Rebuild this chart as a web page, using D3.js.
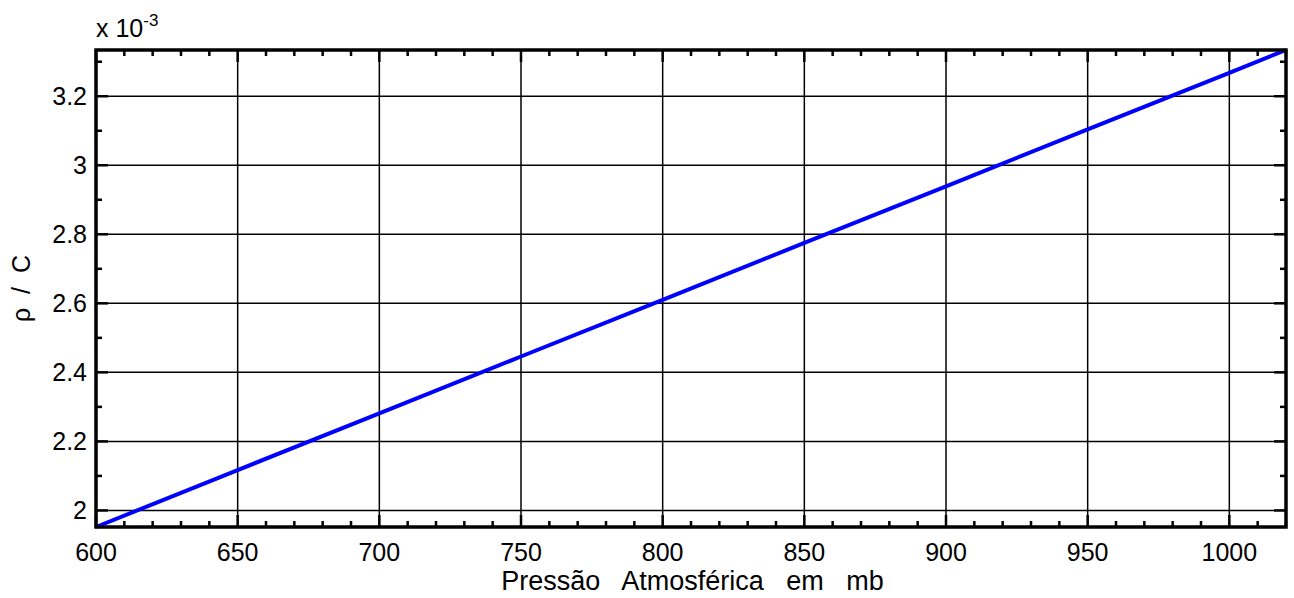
<!DOCTYPE html>
<html>
<head>
<meta charset="utf-8">
<script src="https://cdn.jsdelivr.net/npm/d3@7"></script>
<style>
  body { margin: 0; background: #fff; }
  text { font-family: "Liberation Sans", Arial, sans-serif; fill: #000; }
</style>
</head>
<body>
<script>
// data (rho / C in units of 1e-3)
var pressure = [600, 650, 700, 750, 800, 850, 900, 950, 1000, 1020];
var rhoC = [1.952, 2.117, 2.281, 2.446, 2.610, 2.775, 2.939, 3.104, 3.268, 3.334];
var xTicks = [600, 650, 700, 750, 800, 850, 900, 950, 1000];
var yTicks = [2, 2.2, 2.4, 2.6, 2.8, 3, 3.2];
var xTitle = "Pressão   Atmosférica   em   mb";
var yTitle = "ρ  /  C";

// set the dimensions and margins of the graph
var margin = { top: 50, right: 8, bottom: 71, left: 96 },
    width = 1294 - margin.left - margin.right,
    height = 598 - margin.top - margin.bottom;

var x = d3.scaleLinear().domain([600, 1020]).range([0, width]);
var y = d3.scaleLinear().domain([1.952, 3.334]).range([height, 0]);

var svg = d3.select("body").append("svg")
    .attr("width", 1294)
    .attr("height", 598)
    .append("g")
    .attr("transform", "translate(" + margin.left + "," + margin.top + ")");

// grid lines
svg.selectAll(".vgrid").data(xTicks).enter().append("line")
    .attr("x1", function(d) { return x(d); })
    .attr("x2", function(d) { return x(d); })
    .attr("y1", 0).attr("y2", height)
    .attr("stroke", "#000").attr("stroke-width", 1.5);

svg.selectAll(".hgrid").data(yTicks).enter().append("line")
    .attr("y1", function(d) { return y(d); })
    .attr("y2", function(d) { return y(d); })
    .attr("x1", 0).attr("x2", width)
    .attr("stroke", "#000").attr("stroke-width", 1.5);

// minor ticks
var xMinor = d3.range(600, 1021, 10).filter(function(d) { return d % 50 !== 0; });
var yMinor = d3.range(1.9, 3.35, 0.1).filter(function(d) {
    return d >= y.domain()[0] && d <= y.domain()[1] && Math.round(d * 10) % 2 === 1;
});

[[height, -1], [0, 1]].forEach(function(s) {
    svg.append("g").selectAll("line").data(xMinor).enter().append("line")
        .attr("x1", function(d) { return x(d); })
        .attr("x2", function(d) { return x(d); })
        .attr("y1", s[0]).attr("y2", s[0] + s[1] * 6)
        .attr("stroke", "#000").attr("stroke-width", 2.5);
    svg.append("g").selectAll("line").data(xTicks).enter().append("line")
        .attr("x1", function(d) { return x(d); })
        .attr("x2", function(d) { return x(d); })
        .attr("y1", s[0]).attr("y2", s[0] + s[1] * 12)
        .attr("stroke", "#000").attr("stroke-width", 2.5);
});

[[0, 1], [width, -1]].forEach(function(s) {
    svg.append("g").selectAll("line").data(yMinor).enter().append("line")
        .attr("y1", function(d) { return y(d); })
        .attr("y2", function(d) { return y(d); })
        .attr("x1", s[0]).attr("x2", s[0] + s[1] * 6)
        .attr("stroke", "#000").attr("stroke-width", 2.5);
    svg.append("g").selectAll("line").data(yTicks).enter().append("line")
        .attr("y1", function(d) { return y(d); })
        .attr("y2", function(d) { return y(d); })
        .attr("x1", s[0]).attr("x2", s[0] + s[1] * 12)
        .attr("stroke", "#000").attr("stroke-width", 2.5);
});

// the data line
var valueline = d3.line()
    .x(function(d, i) { return x(pressure[i]); })
    .y(function(d) { return y(d); });

svg.append("path")
    .datum(rhoC)
    .attr("fill", "none")
    .attr("stroke", "#0000ff")
    .attr("stroke-width", 4)
    .attr("d", valueline);

// frame
svg.append("rect")
    .attr("width", width).attr("height", height)
    .attr("fill", "none").attr("stroke", "#000").attr("stroke-width", 3.5);

// tick labels
svg.selectAll(".xlab").data(xTicks).enter().append("text")
    .attr("x", function(d) { return x(d); })
    .attr("y", height + 34)
    .attr("text-anchor", "middle")
    .style("font-size", "25px")
    .text(function(d) { return d; });

svg.selectAll(".ylab").data(yTicks).enter().append("text")
    .attr("x", -9)
    .attr("y", function(d) { return y(d); })
    .attr("dy", "0.36em")
    .attr("text-anchor", "end")
    .style("font-size", "25px")
    .text(function(d) { return d; });

// multiplier
var mult = svg.append("text")
    .attr("x", 0).attr("y", -13)
    .style("font-size", "25px");
mult.append("tspan").text("x 10");
mult.append("tspan").attr("dy", -11).style("font-size", "17px").text("-3");

// axis titles
svg.append("text")
    .attr("x", width / 2 + 1.5)
    .attr("y", height + 63)
    .attr("text-anchor", "middle")
    .attr("xml:space", "preserve")
    .style("white-space", "pre")
    .style("font-size", "27px")
    .text(xTitle);

svg.append("text")
    .attr("transform", "translate(" + (-66) + "," + (height / 2) + ") rotate(-90)")
    .attr("text-anchor", "middle")
    .attr("xml:space", "preserve")
    .style("white-space", "pre")
    .style("font-size", "25px")
    .text(yTitle);
</script>
</body>
</html>
